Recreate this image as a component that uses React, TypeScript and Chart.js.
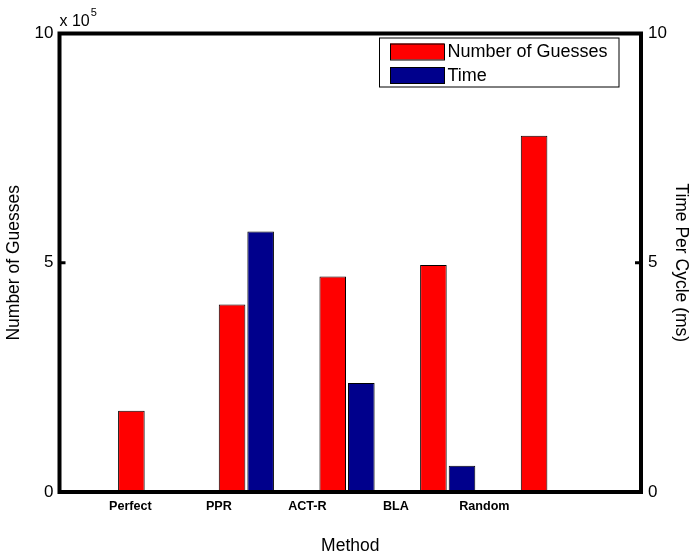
import { useEffect, useRef } from 'react';
import { Chart, registerables } from 'chart.js';

Chart.register(...registerables);

const categories = ['Perfect', 'PPR', 'ACT-R', 'BLA', 'Random'];
const guesses = [177000, 409000, 470000, 495000, 777000];
const timeMs = [0, 5.68, 2.38, 0.57, 0];
const leftTicks = [0, 5, 10]; // x 10^5
const rightTicks = [0, 5, 10];
const seriesLabels = ['Number of Guesses', 'Time'];
const seriesColors = ['#ff0000', '#00008c'];

const FONT = '"Liberation Sans", Arial, Helvetica, sans-serif';

const framePlugin = {
  id: 'frame',
  afterDatasetsDraw(chart: any) {
    const { ctx, chartArea } = chart;
    const yl = chart.scales.y;
    const yr = chart.scales.y1;
    ctx.save();
    ctx.strokeStyle = '#000';
    // inward ticks
    ctx.lineWidth = 3;
    leftTicks.forEach((t) => {
      const py = yl.getPixelForValue(t * 1e5);
      ctx.beginPath();
      ctx.moveTo(chartArea.left, py);
      ctx.lineTo(chartArea.left + 6, py);
      ctx.stroke();
    });
    rightTicks.forEach((t) => {
      const py = yr.getPixelForValue(t);
      ctx.beginPath();
      ctx.moveTo(chartArea.right, py);
      ctx.lineTo(chartArea.right - 6, py);
      ctx.stroke();
    });
    // box
    ctx.lineWidth = 4;
    ctx.strokeRect(chartArea.left, chartArea.top, chartArea.right - chartArea.left, chartArea.bottom - chartArea.top);
    ctx.restore();
  },
  afterDraw(chart: any) {
    const { ctx, chartArea } = chart;
    ctx.save();
    // exponent label
    ctx.fillStyle = '#000';
    ctx.textBaseline = 'alphabetic';
    ctx.textAlign = 'left';
    ctx.font = `16px ${FONT}`;
    ctx.fillText('x 10', chartArea.left, 26);
    const w = ctx.measureText('x 10').width;
    ctx.font = `11px ${FONT}`;
    ctx.fillText('5', chartArea.left + w + 1, 16);
    // legend
    const bx = chartArea.right - 22.5;
    const left = 379;
    const top = chartArea.top + 4;
    const h = 49;
    ctx.fillStyle = '#fff';
    ctx.fillRect(left, top, bx - left, h);
    ctx.strokeStyle = '#000';
    ctx.lineWidth = 1;
    ctx.strokeRect(left + 0.5, top + 0.5, bx - left, h);
    ctx.font = `18px ${FONT}`;
    ctx.textBaseline = 'middle';
    chart.data.datasets.forEach((ds: any, i: number) => {
      const cy = top + 14 + i * 23.5;
      ctx.fillStyle = ds.backgroundColor;
      ctx.fillRect(390, cy - 8, 54, 16);
      ctx.strokeStyle = '#000';
      ctx.strokeRect(390.5, cy - 7.5, 54, 16);
      ctx.fillStyle = '#000';
      ctx.fillText(ds.label, 447.5, cy + 1);
    });
    ctx.restore();
  },
};

export default function App() {
  const ref = useRef<HTMLCanvasElement>(null);
  useEffect(() => {
    if (!ref.current) return;
    const chart = new Chart(ref.current, {
      type: 'bar',
      data: {
        datasets: [
          {
            label: seriesLabels[0],
            data: categories.map((_, i) => ({ x: i + 1, y: guesses[i] })),
            backgroundColor: seriesColors[0],
            borderColor: '#000',
            borderWidth: 1,
            xAxisID: 'x',
            yAxisID: 'y',
          },
          {
            label: seriesLabels[1],
            data: categories.map((_, i) => ({ x: i + 1, y: timeMs[i] })),
            backgroundColor: seriesColors[1],
            borderColor: '#000',
            borderWidth: 1,
            xAxisID: 'x',
            yAxisID: 'y1',
          },
        ],
      },
      options: {
        animation: false,
        responsive: true,
        maintainAspectRatio: false,
        layout: { padding: { top: 33.5, left: 0, right: 0, bottom: 0 } },
        datasets: { bar: { categoryPercentage: 0.568, barPercentage: 0.93 } } as any,
        plugins: {
          legend: { display: false },
          tooltip: { enabled: false },
        },
        scales: {
          x: {
            type: 'linear',
            display: false,
            offset: false,
            min: 0.144,
            max: 5.92,
            afterBuildTicks: (s: any) => {
              s.ticks = categories.map((_, i) => ({ value: i + 1 }));
            },
          },
          xl: {
            type: 'linear',
            position: 'bottom',
            offset: false,
            min: 0.199,
            max: 6.77,
            grid: { display: false, drawTicks: false, offset: false },
            border: { display: false },
            afterBuildTicks: (s: any) => {
              s.ticks = categories.map((_, i) => ({ value: i + 1 }));
            },
            afterFit: (s: any) => {
              s.height = 65;
            },
            ticks: {
              padding: 7,
              color: '#000',
              font: { family: FONT, size: 12.6, weight: 'bold' },
              callback: (_v: any, i: number) => categories[i],
              maxRotation: 0,
              autoSkip: false,
            },
            title: {
              display: true,
              text: 'Method',
              color: '#000',
              font: { family: FONT, size: 17.5 },
              padding: { top: 0, bottom: 0.5 },
            },
          },
          y: {
            type: 'linear',
            position: 'left',
            min: 0,
            max: 1e6,
            grid: { display: false, drawTicks: false },
            border: { display: false },
            afterBuildTicks: (s: any) => {
              s.ticks = leftTicks.map((t) => ({ value: t * 1e5 }));
            },
            afterFit: (s: any) => {
              s.width = 59.5;
            },
            ticks: {
              padding: 6,
              color: '#000',
              font: { family: FONT, size: 17 },
              callback: (v: any) => String(Math.round(Number(v) / 1e5)),
            },
            title: {
              display: true,
              text: seriesLabels[0],
              color: '#000',
              font: { family: FONT, size: 17.5 },
              padding: { top: 3.5, bottom: 0 },
            },
          },
          y1: {
            type: 'linear',
            position: 'right',
            min: 0,
            max: 10,
            grid: { display: false, drawTicks: false },
            border: { display: false },
            afterBuildTicks: (s: any) => {
              s.ticks = rightTicks.map((t) => ({ value: t }));
            },
            afterFit: (s: any) => {
              s.width = 50;
            },
            ticks: {
              padding: 7,
              color: '#000',
              font: { family: FONT, size: 17 },
            },
            title: {
              display: true,
              text: 'Time Per Cycle (ms)',
              color: '#000',
              font: { family: FONT, size: 17.5 },
              padding: { top: 0, bottom: 0 },
            },
          },
        },
      } as any,
      plugins: [framePlugin],
    });
    return () => chart.destroy();
  }, []);
  return (
    <div style={{ position: 'fixed', left: 0, top: 0, width: 691, height: 557, background: '#fff' }}>
      <canvas ref={ref} />
    </div>
  );
}
